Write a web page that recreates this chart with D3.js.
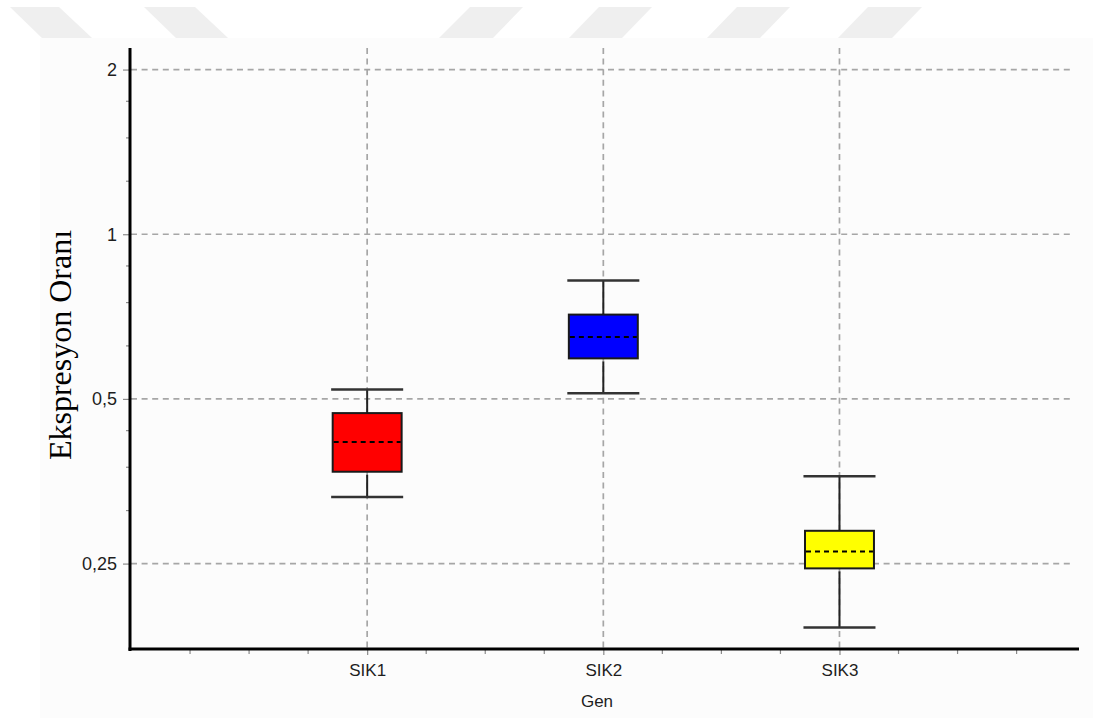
<!DOCTYPE html>
<html>
<head>
<meta charset="utf-8">
<script src="https://cdn.jsdelivr.net/npm/d3@7/dist/d3.min.js"></script>
<style>
  html, body { margin: 0; padding: 0; background: #ffffff; }
  svg { display: block; }
</style>
</head>
<body>
<svg id="chart" width="1093" height="718"></svg>
<script>
// Gene expression ratios (log2 axis), one box per gene
const genes      = ["SIK1", "SIK2", "SIK3"];
const whiskerLow = [0.331, 0.512, 0.191];
const q1         = [0.368, 0.593, 0.245];
const median     = [0.417, 0.649, 0.263];
const q3         = [0.471, 0.713, 0.287];
const whiskerHigh= [0.520, 0.823, 0.361];
const boxColors  = ["#ff0000", "#0000ff", "#ffff00"];

const yMajorTicks  = [0.25, 0.5, 1, 2];
const yMajorLabels = ["0,25", "0,5", "1", "2"];
const yMinorTicks  = [0.3125, 0.375, 0.4375, 0.625, 0.75, 0.875, 1.25, 1.5, 1.75];
const xMinorTicks  = [0.25, 0.5, 0.75, 1.25, 1.5, 1.75, 2.25, 2.5, 2.75, 3.25, 3.5, 3.75];
const yTitle = "Ekspresyon Oranı";
const xTitle = "Gen";

const svg = d3.select("#chart");

// panel background and faint header stripes
svg.append("rect").attr("x", 40).attr("y", 38).attr("width", 1053).attr("height", 680)
  .attr("fill", "#fcfcfc");
const stripes = [
  [[10,7],[59,7],[92,38],[42,38]],
  [[144,7],[195,7],[228,38],[176,38]],
  [[470,7],[523,7],[493,38],[439,38]],
  [[599,7],[652,7],[622,38],[569,38]],
  [[737,7],[790,7],[760,38],[707,38]],
  [[868,7],[922,7],[892,38],[838,38]]
];
svg.append("g").selectAll("polygon").data(stripes).join("polygon")
  .attr("points", d => d.map(p => p.join(",")).join(" "))
  .attr("fill", "#efefef");

const x = d3.scaleLinear().domain([0, 4.01]).range([131, 1078]);
const y = d3.scaleLog().base(2).domain([0.1745, 2.19]).range([649, 48]);

const [xl, xr] = x.range();
const [yb, yt] = y.range();

// grid
const grid = svg.append("g").attr("stroke", "#a6a6a6").attr("stroke-width", 1.7)
  .attr("stroke-dasharray", "6,4.6").attr("fill", "none");
grid.selectAll("line.h").data(yMajorTicks).join("line").attr("class", "h")
  .attr("x1", xl).attr("x2", xr - 6)
  .attr("y1", d => y(d)).attr("y2", d => y(d));
grid.selectAll("line.v").data(genes).join("line").attr("class", "v")
  .attr("x1", (d, i) => x(i + 1)).attr("x2", (d, i) => x(i + 1))
  .attr("y1", yt).attr("y2", yb);

// y axis
const yAxis = svg.append("g").attr("transform", `translate(${xl - 1},0)`)
  .call(d3.axisLeft(y).tickValues(yMajorTicks)
    .tickFormat((d, i) => yMajorLabels[i]).tickSize(7).tickPadding(6));
yAxis.select(".domain").remove();
yAxis.selectAll(".tick line").attr("stroke", "#8a8a8a").attr("stroke-width", 1.2);
yAxis.selectAll(".tick text").attr("fill", "#1e1e1e")
  .style("font-family", "'Liberation Sans', Arial, sans-serif").style("font-size", "18px");
svg.append("g").selectAll("line").data(yMinorTicks).join("line")
  .attr("x1", xl - 5).attr("x2", xl).attr("y1", d => y(d)).attr("y2", d => y(d))
  .attr("stroke", "#8a8a8a").attr("stroke-width", 1.2);

// x axis
const xAxis = svg.append("g").attr("transform", `translate(0,${yb + 1})`)
  .call(d3.axisBottom(x).tickValues([1, 2, 3])
    .tickFormat((d, i) => genes[i]).tickSize(5).tickPadding(9));
xAxis.select(".domain").remove();
xAxis.selectAll(".tick line").attr("stroke", "#8a8a8a").attr("stroke-width", 1.2);
xAxis.selectAll(".tick text").attr("fill", "#1e1e1e")
  .style("font-family", "'Liberation Sans', Arial, sans-serif").style("font-size", "17px");
svg.append("g").selectAll("line").data(xMinorTicks).join("line")
  .attr("x1", d => x(d)).attr("x2", d => x(d)).attr("y1", yb + 1).attr("y2", yb + 5)
  .attr("stroke", "#8a8a8a").attr("stroke-width", 1.2);

// axis lines
svg.append("line").attr("x1", xl - 1).attr("x2", xl - 1).attr("y1", yt).attr("y2", yb + 2)
  .attr("stroke", "#000").attr("stroke-width", 3);
svg.append("line").attr("x1", xl - 2.5).attr("x2", xr + 1).attr("y1", yb).attr("y2", yb)
  .attr("stroke", "#000").attr("stroke-width", 3);

// titles
svg.append("text").attr("x", 597).attr("y", 707).attr("text-anchor", "middle")
  .attr("fill", "#1e1e1e")
  .style("font-family", "'Liberation Sans', Arial, sans-serif").style("font-size", "17px")
  .text(xTitle);
svg.append("text").attr("transform", "translate(71,345) rotate(-90)")
  .attr("text-anchor", "middle").attr("fill", "#000")
  .style("font-family", "'Liberation Serif', 'Times New Roman', serif").style("font-size", "32px")
  .text(yTitle);

// boxes
const boxHalf = (x(0.292) - x(0)) / 2;
const capHalf = (x(0.305) - x(0)) / 2;
const boxes = svg.append("g").selectAll("g").data(genes).join("g");
boxes.append("line")
  .attr("x1", (d, i) => x(i + 1)).attr("x2", (d, i) => x(i + 1))
  .attr("y1", (d, i) => y(whiskerHigh[i])).attr("y2", (d, i) => y(q3[i]))
  .attr("stroke", "#222").attr("stroke-width", 2);
boxes.append("line")
  .attr("x1", (d, i) => x(i + 1)).attr("x2", (d, i) => x(i + 1))
  .attr("y1", (d, i) => y(q1[i]) + 3).attr("y2", (d, i) => y(whiskerLow[i]))
  .attr("stroke", "#222").attr("stroke-width", 2);
[whiskerHigh, whiskerLow].forEach(arr => {
  boxes.append("line")
    .attr("x1", (d, i) => x(i + 1) - capHalf).attr("x2", (d, i) => x(i + 1) + capHalf)
    .attr("y1", (d, i) => y(arr[i])).attr("y2", (d, i) => y(arr[i]))
    .attr("stroke", "#333").attr("stroke-width", 2.5);
});
boxes.append("rect")
  .attr("x", (d, i) => x(i + 1) - boxHalf).attr("width", boxHalf * 2)
  .attr("y", (d, i) => y(q3[i])).attr("height", (d, i) => y(q1[i]) - y(q3[i]))
  .attr("fill", (d, i) => boxColors[i]).attr("stroke", "#1a1a1a").attr("stroke-width", 2);
boxes.append("line")
  .attr("x1", (d, i) => x(i + 1) - boxHalf + 1).attr("x2", (d, i) => x(i + 1) + boxHalf - 1)
  .attr("y1", (d, i) => y(median[i])).attr("y2", (d, i) => y(median[i]))
  .attr("stroke", "#000").attr("stroke-width", 2).attr("stroke-dasharray", "5,4");
</script>
</body>
</html>
